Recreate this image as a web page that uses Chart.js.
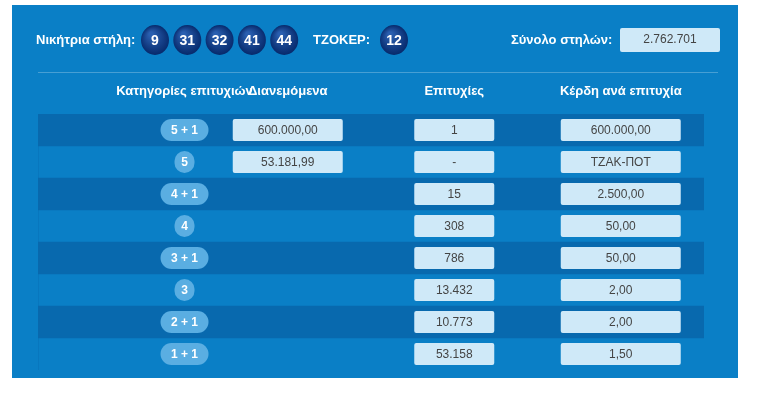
<!DOCTYPE html>
<html><head><meta charset="utf-8">
<script src="https://cdn.jsdelivr.net/npm/chart.js@4"></script>
<style>html,body{margin:0;padding:0;background:#fff}#w{width:757px;height:403px}</style>
</head><body><div id="w"><canvas id="c"></canvas></div>
<script>
const categories=['5 + 1','5','4 + 1','4','3 + 1','3','2 + 1','1 + 1'];
const distributed=['600.000,00','53.181,99','','','','','',''];
const winners=['1','-','15','308','786','13.432','10.773','53.158'];
const prizes=['600.000,00','ΤΖΑΚ-ΠΟΤ','2.500,00','50,00','50,00','2,00','2,00','1,50'];
const stripe=[100,0,100,0,100,0,100,0];
const drawNumbers=['9','31','32','41','44'];
const jokerNumber='12';
const totalColumns='2.762.701';
const headers=['Κατηγορίες επιτυχιών','Διανεμόμενα','Επιτυχίες','Κέρδη ανά επιτυχία'];
const colX=[22,37.5,62.5,87.5];

const F="'Liberation Sans Narrow','Arial Narrow',Arial,sans-serif";
function rr(ctx,x,y,w,h,r){ctx.beginPath();ctx.roundRect(x,y,w,h,r);}
function ball(ctx,x,y,t){
  const g=ctx.createRadialGradient(x-4,y-6,2,x,y,15);
  g.addColorStop(0,'#2a5fb0');g.addColorStop(1,'#06296b');
  ctx.fillStyle=g;ctx.beginPath();ctx.ellipse(x,y,14,15,0,0,Math.PI*2);ctx.fill();
  ctx.fillStyle='#fff';ctx.font='bold 14px '+F;ctx.textAlign='center';ctx.textBaseline='middle';ctx.fillText(t,x,y+1);
}
const panel={id:'panel',beforeDraw(ch){const c=ch.ctx;c.save();c.fillStyle='#0a7fc6';c.fillRect(12,5,726,373);c.restore();}};
const cells={id:'cells',afterDatasetsDraw(ch){
  const c=ch.ctx,xs=ch.scales.x,ys=ch.scales.y;c.save();
  c.textBaseline='middle';c.textAlign='left';c.fillStyle='#fff';c.font='bold 13px '+F;
  c.fillText('Νικήτρια στήλη:',36,40);
  drawNumbers.forEach((n,i)=>ball(c,155+i*32.3,40,n));
  c.fillStyle='#fff';c.font='bold 13px '+F;c.textAlign='left';c.fillText('ΤΖΟΚΕΡ:',313,40);
  ball(c,394,40,jokerNumber);
  c.fillStyle='#fff';c.font='bold 13px '+F;c.textAlign='left';c.fillText('Σύνολο στηλών:',511,40);
  c.fillStyle='#cfe9f8';rr(c,620,28,100,24,2);c.fill();
  c.fillStyle='#444';c.textAlign='center';c.font='12px '+F;c.fillText(totalColumns,670,40);
  c.strokeStyle='rgba(255,255,255,0.25)';c.lineWidth=1;c.beginPath();c.moveTo(38,72.5);c.lineTo(718,72.5);c.stroke();
  c.fillStyle='#fff';c.font='bold 13px '+F;
  headers.forEach((h,i)=>c.fillText(h,xs.getPixelForValue(colX[i]),91));
  categories.forEach((cat,i)=>{
    const y=ys.getPixelForValue(i);
    const cx=xs.getPixelForValue(colX[0]);const w=cat.length>1?48:20;
    c.fillStyle='#5aaee2';rr(c,cx-w/2,y-11,w,22,11);c.fill();
    c.fillStyle='#fff';c.font='bold 12px '+F;c.fillText(cat,cx,y+1);
    const box=(col,t,w)=>{if(!t)return;const x=xs.getPixelForValue(colX[col]);
      c.fillStyle='#cfe9f8';rr(c,x-w/2,y-11,w,22,2);c.fill();
      c.fillStyle='#444';c.font='12px '+F;c.fillText(t,x,y+1);};
    box(1,distributed[i],110);box(2,winners[i],80);box(3,prizes[i],120);
  });
  c.restore();}};
new Chart(document.getElementById('c'),{type:'bar',
  data:{labels:categories,datasets:[{data:stripe,backgroundColor:'#0869ae',barPercentage:1,categoryPercentage:1}]},
  options:{indexAxis:'y',responsive:true,maintainAspectRatio:false,animation:false,
    layout:{padding:{top:114,bottom:33,left:38,right:53}},
    plugins:{legend:{display:false},tooltip:{enabled:false}},
    scales:{x:{display:false,min:0,max:100},y:{display:false}}},
  plugins:[panel,cells]});
</script></body></html>
